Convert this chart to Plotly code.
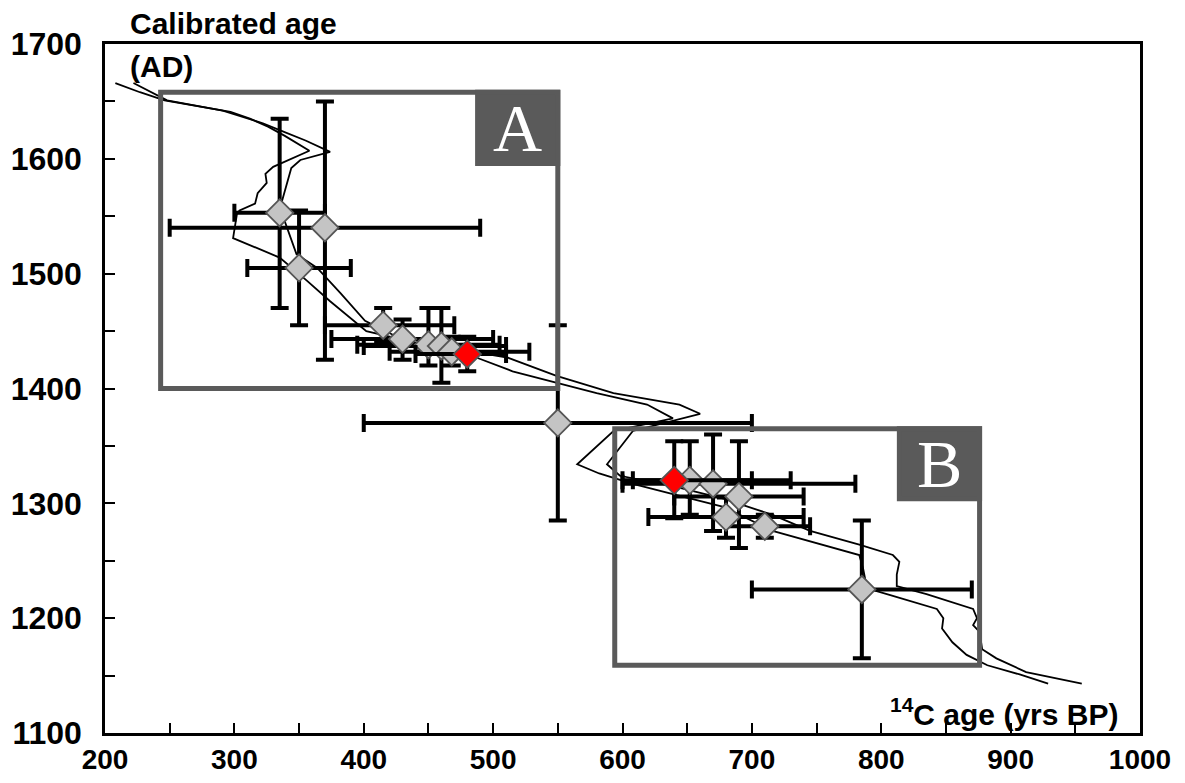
import plotly.graph_objects as go

# calibration curve, two lines (14C age BP, calibrated age AD)
curve_a_c14 = [208, 227, 246, 273, 297, 312, 326, 339, 358, 330, 324, 325, 318, 316, 304, 302,
               299, 335, 356, 374, 392, 402, 451, 487, 515, 549, 580, 619, 639, 593, 565,
               582, 608, 639, 678, 716, 745, 783, 786, 789, 807, 843, 848, 847, 855, 866, 882, 907, 929]
curve_a_cal = [1666, 1658, 1651, 1646, 1641, 1635, 1628, 1620, 1607, 1593, 1587, 1579, 1570, 1561, 1555, 1552,
               1531, 1514, 1494, 1476, 1459, 1450, 1437, 1427, 1415, 1405, 1396, 1386, 1374, 1363, 1334,
               1326, 1317, 1308, 1297, 1276, 1267, 1255, 1243, 1226, 1220, 1208, 1200, 1191, 1179, 1168, 1159, 1151, 1143]

curve_b_c14 = [222, 248, 291, 307, 322, 335, 355, 374, 351, 344, 341, 339, 337, 335,
               348, 364, 382, 401, 424, 459, 511, 549, 593, 644, 660, 608, 588,
               598, 639, 678, 716, 745, 783, 809, 814, 812, 812, 835, 871, 874, 871, 876, 878, 889, 912, 955]
curve_b_cal = [1666, 1651, 1642, 1636, 1631, 1625, 1616, 1606, 1599, 1592, 1581, 1572, 1564, 1558,
               1517, 1505, 1483, 1459, 1446, 1437, 1427, 1411, 1396, 1386, 1378, 1363, 1334,
               1324, 1315, 1304, 1290, 1276, 1264, 1255, 1249, 1238, 1228, 1221, 1208, 1200, 1194, 1188, 1173, 1165, 1153, 1143]

# dated samples (grey)
grey_c14 = [335, 370, 350, 415, 430, 450, 460, 468, 550, 652, 670, 690, 680, 710, 785]
grey_cal = [1553, 1540, 1505, 1455, 1443, 1438, 1437, 1432, 1370, 1320, 1317, 1306, 1288, 1280, 1225]
grey_c14_lo = [300, 250, 310, 370, 375, 395, 400, 420, 400, 600, 600, 640, 620, 680, 700]
grey_c14_hi = [370, 490, 390, 470, 500, 505, 510, 528, 700, 700, 780, 740, 740, 745, 870]
grey_cal_lo = [1470, 1425, 1455, 1440, 1425, 1420, 1405, 1420, 1285, 1290, 1276, 1261, 1270, 1270, 1165]
grey_cal_hi = [1635, 1650, 1555, 1470, 1460, 1470, 1470, 1445, 1455, 1354, 1360, 1354, 1305, 1290, 1285]

# highlighted samples (red)
red_c14 = [480, 640]
red_cal = [1430, 1320]
red_c14_lo = [440, 608]
red_c14_hi = [510, 730]
red_cal_lo = [1415, 1287]
red_cal_hi = [1445, 1354]

fig = go.Figure()

fig.add_trace(go.Scatter(x=curve_a_c14, y=curve_a_cal, mode="lines",
                         line=dict(color="black", width=1.8), hoverinfo="skip"))
fig.add_trace(go.Scatter(x=curve_b_c14, y=curve_b_cal, mode="lines",
                         line=dict(color="black", width=1.8), hoverinfo="skip"))


def add_points(xs, ys, xlo, xhi, ylo, yhi, fill):
    fig.add_trace(go.Scatter(
        x=xs, y=ys, mode="markers",
        marker=dict(symbol="diamond", size=21, color=fill, line=dict(color="#555555", width=1.8)),
        error_x=dict(type="data", symmetric=False,
                     array=[h - v for h, v in zip(xhi, xs)],
                     arrayminus=[v - l for l, v in zip(xlo, xs)],
                     color="black", thickness=4, width=9),
        error_y=dict(type="data", symmetric=False,
                     array=[h - v for h, v in zip(yhi, ys)],
                     arrayminus=[v - l for l, v in zip(ylo, ys)],
                     color="black", thickness=4, width=9),
    ))


add_points(grey_c14, grey_cal, grey_c14_lo, grey_c14_hi, grey_cal_lo, grey_cal_hi, "#c4c4c4")
add_points(red_c14, red_cal, red_c14_lo, red_c14_hi, red_cal_lo, red_cal_hi, "#ff0000")

box_col = "#5a5a5a"
# box A and box B
fig.add_shape(type="rect", x0=243, x1=550, y0=1400, y1=1658, line=dict(color=box_col, width=5))
fig.add_shape(type="rect", x0=488, x1=550, y0=1596, y1=1658, fillcolor=box_col, line=dict(color=box_col, width=5))
fig.add_shape(type="rect", x0=594, x1=876, y0=1159, y1=1365, line=dict(color=box_col, width=5))
fig.add_shape(type="rect", x0=814, x1=876, y0=1304, y1=1365, fillcolor=box_col, line=dict(color=box_col, width=5))

serif = "Liberation Serif, DejaVu Serif, serif"
fig.add_annotation(x=519, y=1627, text="A", showarrow=False,
                   font=dict(family=serif, size=68, color="white"))
fig.add_annotation(x=845, y=1334.5, text="B", showarrow=False,
                   font=dict(family=serif, size=68, color="white"))

sans = "Liberation Sans, Arial, sans-serif"
fig.add_annotation(xref="paper", yref="paper", x=0.022, y=1.03, xanchor="left", yanchor="middle",
                   text="<b>Calibrated age</b>", showarrow=False,
                   font=dict(family=sans, size=30, color="black"))
fig.add_annotation(xref="paper", yref="paper", x=0.022, y=0.968, xanchor="left", yanchor="middle",
                   text="<b>(AD)</b>", showarrow=False,
                   font=dict(family=sans, size=30, color="black"))
fig.add_annotation(xref="paper", yref="paper", x=0.981, y=0.03, xanchor="right", yanchor="middle",
                   text="<b><sup>14</sup>C age (yrs BP)</b>", showarrow=False,
                   font=dict(family=sans, size=30, color="black"))

fig.update_layout(
    width=1185, height=783,
    margin=dict(l=97, r=53, t=36, b=58),
    plot_bgcolor="white", paper_bgcolor="white",
    showlegend=False,
    font=dict(family=sans, color="black"),
)

fig.update_xaxes(range=[200, 1000], dtick=100, showgrid=False, zeroline=False, automargin=False,
                 showline=True, linecolor="black", linewidth=2.5, mirror=True,
                 ticks="inside", ticklen=10, tickwidth=1.5, tickcolor="black",
                 minor=dict(ticks="inside", dtick=50, ticklen=10, tickcolor="black", showgrid=False),
                 tickfont=dict(family=sans, size=28, color="black"), ticklabelstandoff=0,
                 tickprefix="<b>", ticksuffix="</b>")
fig.update_yaxes(range=[1100, 1700], dtick=100, showgrid=False, zeroline=False, automargin=False,
                 showline=True, linecolor="black", linewidth=2.5, mirror=True,
                 ticks="inside", ticklen=10, tickwidth=1.5, tickcolor="black",
                 minor=dict(ticks="inside", dtick=50, ticklen=10, tickcolor="black", showgrid=False),
                 tickfont=dict(family=sans, size=32, color="black"), ticklabelstandoff=14,
                 tickprefix="<b>", ticksuffix="</b>")

fig.write_html("out.html")
